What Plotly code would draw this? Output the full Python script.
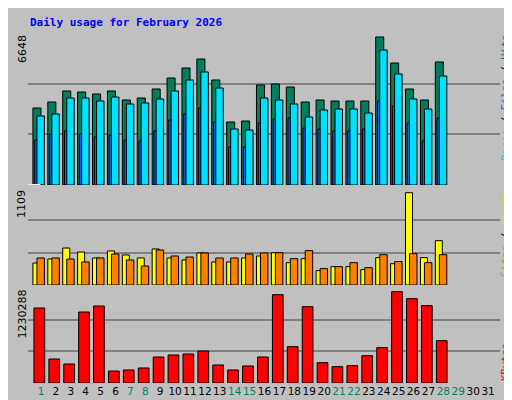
import plotly.graph_objects as go

# datos
dias = list(range(1, 32))
dias_con_datos = list(range(1, 29))
fin_de_semana = [1, 7, 8, 14, 15, 21, 22, 28, 29]

hits = [3368, 3630, 4112, 4068, 3980, 4112, 3718, 3805, 4199, 4680, 5118, 5511, 4593, 2756,
        2799, 4374, 4418, 4287, 3630, 3718, 3674, 3674, 3674, 6474, 5336, 4199, 3718, 5380]
files = [3018, 3106, 3805, 3805, 3674, 3849, 3543, 3587, 3762, 4112, 4593, 4943, 4243, 2449,
         2406, 3805, 3718, 3543, 2974, 3281, 3324, 3324, 3149, 5905, 4855, 3762, 3324, 4768]
pages = [1968, 2231, 2362, 2231, 2100, 2187, 1968, 1925, 2362, 2843, 3106, 3368, 2756, 1662,
         1662, 2712, 2887, 2931, 2493, 2449, 2362, 2362, 2449, 3674, 3455, 2712, 1925, 2931]
visits = [254, 300, 427, 381, 312, 393, 347, 312, 416, 312, 289, 370, 266, 266,
          312, 335, 373, 258, 304, 166, 212, 212, 177, 316, 246, 1066, 316, 512]
sites = [312, 312, 300, 266, 312, 358, 289, 219, 404, 335, 323, 370, 312, 312,
         358, 370, 373, 304, 397, 189, 212, 258, 200, 350, 270, 362, 258, 350]
kbytes = [978000, 313000, 248000, 926000, 1004000, 156000, 170000, 196000, 339000, 365000,
          378000, 417000, 235000, 170000, 222000, 339000, 1152000, 474000, 995000, 265000,
          213000, 226000, 356000, 461000, 1191000, 1100000, 1009000, 552000]

max_hits = 6648
max_visits = 1109
max_kbytes = 1230288

fig = go.Figure()

def barra(y, color, offset, width, eje):
    fig.add_trace(go.Bar(
        x=dias_con_datos, y=y, marker=dict(color=color, line=dict(color='black', width=1)),
        offset=offset, width=width, xaxis='x', yaxis=eje))

barra(hits, '#007f5f', -0.54, 0.54, 'y')
barra(pages, '#1e5cff', -0.42, 0.22, 'y')
barra(files, '#00e0ff', -0.27, 0.5, 'y')
barra(visits, '#ffff00', -0.54, 0.47, 'y2')
barra(sites, '#ff8000', -0.27, 0.5, 'y2')
barra(kbytes, '#ff0000', -0.47, 0.72, 'y3')

ticktext = ['<span style="color:#008060">%d</span>' % d if d in fin_de_semana else str(d) for d in dias]

eje_y = dict(showticklabels=False, showgrid=True, gridcolor='#808080', gridwidth=1.5,
             zeroline=False, fixedrange=True, automargin=False)

fig.update_layout(
    width=512, height=400, margin=dict(l=0, r=0, t=0, b=0),
    paper_bgcolor='#c0c0c0', plot_bgcolor='#c0c0c0',
    showlegend=False, barmode='overlay',
    font=dict(family='DejaVu Sans', size=11, color='black'),
    xaxis=dict(domain=[20/512, 492/512], range=[0.13, 31.8], tickvals=dias, ticktext=ticktext,
               showgrid=False, zeroline=False, ticks='', anchor='y3', tickangle=0,
               automargin=False, tickfont=dict(family='DejaVu Sans', size=10.5)),
    yaxis=dict(domain=[223/400, 375/400], range=[0, max_hits],
               tickvals=[max_hits/3, 2*max_hits/3], **eje_y),
    yaxis2=dict(domain=[123/400, 220/400], range=[0, 1120],
                tickvals=[1120/3, 2*1120/3], **eje_y),
    yaxis3=dict(domain=[25/400, 120/400], range=[0, 1239000],
                tickvals=[1239000/3, 2*1239000/3], **eje_y),
)

formas = [
    dict(type='rect', x0=503/512, x1=1, y0=0, y1=1, fillcolor='#808080', line_width=0, layer='below'),
    dict(type='rect', x0=0, x1=1, y0=0, y1=7/400, fillcolor='#808080', line_width=0, layer='below'),
    dict(type='rect', x0=0, x1=1, y0=0, y1=1, line=dict(color='black', width=2)),
]
for y0, y1 in [(223, 377), (122, 221), (22, 122)]:
    formas.append(dict(type='rect', x0=20/512, x1=492/512, y0=y0/400, y1=y1/400,
                       line=dict(color='black', width=1.5)))
for y in [222, 122]:
    formas.append(dict(type='line', x0=20/512, x1=492/512, y0=y/400, y1=y/400,
                       line=dict(color='white', width=1.5)))
fig.update_layout(shapes=formas)

mono = 'DejaVu Sans Mono'
notas = [
    dict(x=20/512, y=385/400, text='<b>Daily usage for February 2026</b>', xanchor='left',
         yanchor='middle', font=dict(family=mono, size=11, color='#0000ff')),
    dict(x=14/512, y=375/400, text=str(max_hits), textangle=-90, yanchor='top'),
    dict(x=14/512, y=220/400, text=str(max_visits), textangle=-90, yanchor='top'),
    dict(x=14/512, y=120/400, text=str(max_kbytes), textangle=-90, yanchor='top'),
    dict(x=497/512, y=375/400, textangle=-90, yanchor='top', font=dict(family=mono, size=10.5),
         text='<span style="color:#00d0f0">Pages</span> / <span style="color:#1e5cff">Files</span>'
              ' / <span style="color:#007f5f">Hits</span>'),
    dict(x=497/512, y=175/400, textangle=-90, yanchor='middle', font=dict(family=mono, size=10.5),
         text='<span style="color:#ff8000">Sites</span> / <span style="color:#e0e000">Visits</span>'),
    dict(x=497/512, y=25/400, textangle=-90, yanchor='bottom', font=dict(family=mono, size=10.5),
         text='<span style="color:#ff0000">KBytes</span>'),
]
for n in notas:
    n.update(xref='paper', yref='paper', showarrow=False)
    n.setdefault('xanchor', 'center')
fig.update_layout(annotations=notas)

fig.write_html("out.html")
